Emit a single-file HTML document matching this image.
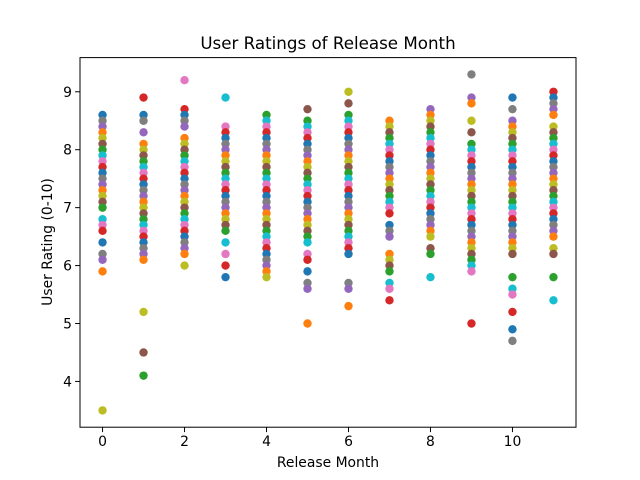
<!DOCTYPE html>
<html><head><meta charset="utf-8"><style>
body{margin:0;background:#fff;}
svg{display:block;font-family:"DejaVu Sans","Liberation Sans",sans-serif;}
</style></head><body>
<svg id="chart" width="640" height="480">
<rect width="640" height="480" fill="#fff"/>
<text x="328" y="49" text-anchor="middle" font-size="16.7" fill="#000">User Ratings of Release Month</text>
<g id="marks"></g>
<rect x="80" y="57.6" width="496" height="369.6" fill="none" stroke="#000" stroke-width="1"/>
<g id="axes"></g>
<text x="328" y="467" text-anchor="middle" font-size="13.9" fill="#000">Release Month</text>
<text transform="translate(52,242) rotate(-90)" text-anchor="middle" font-size="13.9" fill="#000">User Rating (0-10)</text>
</svg>
<script>
const months=[0,1,2,3,4,5,6,7,8,9,10,11];
const m0=[8.6,8.5,8.4,8.3,8.2,8.1,8.0,7.9,7.8,7.7,7.6,7.5,7.4,7.3,7.2,7.1,7.0,6.8,6.7,6.6,6.4,6.2,6.1,5.9,3.5];
const m1=[8.9,8.6,8.5,8.3,8.1,8.0,7.9,7.8,7.7,7.6,7.5,7.4,7.3,7.2,7.1,7.0,6.9,6.8,6.7,6.6,6.5,6.4,6.3,6.2,6.1,5.2,4.5,4.1];
const m2=[9.2,8.7,8.6,8.5,8.4,8.2,8.1,8.0,7.9,7.8,7.7,7.6,7.5,7.4,7.3,7.2,7.1,7.0,6.9,6.8,6.7,6.6,6.5,6.4,6.3,6.2,6.0];
const m3=[8.9,8.4,8.3,8.2,8.1,8.0,7.9,7.8,7.7,7.6,7.5,7.4,7.3,7.2,7.1,7.0,6.9,6.8,6.7,6.6,6.4,6.2,6.0,5.8];
const m4=[8.6,8.5,8.4,8.3,8.2,8.1,8.0,7.9,7.8,7.7,7.6,7.5,7.4,7.3,7.2,7.1,7.0,6.9,6.8,6.7,6.6,6.5,6.4,6.3,6.2,6.1,6.0,5.9,5.8];
const m5=[8.7,8.5,8.4,8.3,8.2,8.1,8.0,7.9,7.8,7.7,7.6,7.5,7.4,7.3,7.2,7.1,7.0,6.9,6.8,6.7,6.6,6.5,6.4,6.2,6.1,5.9,5.7,5.6,5.0];
const m6=[9.0,8.8,8.6,8.5,8.4,8.3,8.2,8.1,8.0,7.9,7.8,7.7,7.6,7.5,7.4,7.3,7.2,7.1,7.0,6.9,6.8,6.7,6.6,6.5,6.4,6.3,6.2,5.7,5.6,5.3];
const m7=[8.5,8.4,8.3,8.2,8.1,8.0,7.9,7.8,7.7,7.6,7.5,7.4,7.3,7.2,7.1,7.0,6.9,6.7,6.6,6.5,6.2,6.1,6.0,5.9,5.7,5.6,5.4];
const m8=[8.7,8.6,8.5,8.4,8.3,8.2,8.1,8.0,7.9,7.8,7.7,7.6,7.5,7.4,7.3,7.2,7.1,7.0,6.9,6.8,6.7,6.6,6.5,6.3,6.2,5.8];
const m9=[9.3,8.9,8.8,8.5,8.3,8.1,8.0,7.9,7.8,7.7,7.6,7.5,7.4,7.3,7.2,7.1,7.0,6.9,6.8,6.7,6.6,6.5,6.4,6.3,6.2,6.1,6.0,5.9,5.0];
const m10=[8.9,8.7,8.5,8.4,8.3,8.2,8.1,8.0,7.9,7.8,7.7,7.6,7.5,7.4,7.3,7.2,7.1,7.0,6.9,6.8,6.7,6.6,6.5,6.4,6.3,6.2,5.8,5.6,5.5,5.2,4.9,4.7];
const m11=[9.0,8.9,8.8,8.7,8.6,8.4,8.3,8.2,8.1,8.0,7.9,7.8,7.7,7.6,7.5,7.4,7.3,7.2,7.1,7.0,6.9,6.8,6.7,6.6,6.5,6.3,6.2,5.8,5.4];
const ratings=[m0,m1,m2,m3,m4,m5,m6,m7,m8,m9,m10,m11];
const xTicks=[0,2,4,6,8,10];
const yTicks=[4,5,6,7,8,9];
const palette=["#1f77b4","#ff7f0e","#2ca02c","#d62728","#9467bd","#8c564b","#e377c2","#7f7f7f","#bcbd22","#17becf"];

const L=80,R=576,T=57.6,B=427.2;
const xMin=-0.55,xMax=11.55,yMin=3.21,yMax=9.59;
const xs=v=>L+(v-xMin)/(xMax-xMin)*(R-L);
const ys=v=>B-(v-yMin)/(yMax-yMin)*(B-T);
const NS="http://www.w3.org/2000/svg";
const marks=document.getElementById("marks");
const axes=document.getElementById("axes");

months.forEach((m,mi)=>{
  const arr=ratings[mi];
  arr.forEach((r,j)=>{
    const c=document.createElementNS(NS,"circle");
    c.setAttribute("cx",xs(m));
    c.setAttribute("cy",ys(r));
    c.setAttribute("r",4.2);
    c.setAttribute("fill",palette[(j*7+mi*3)%10]);
    
    
    marks.appendChild(c);
  });
});

xTicks.forEach(t=>{
  const x=xs(t);
  const l=document.createElementNS(NS,"line");
  l.setAttribute("x1",x);l.setAttribute("x2",x);
  l.setAttribute("y1",B);l.setAttribute("y2",B+4.9);
  l.setAttribute("stroke","#000");
  
  
  axes.appendChild(l);
  const tx=document.createElementNS(NS,"text");
  tx.setAttribute("x",x);tx.setAttribute("y",B+19);
  tx.setAttribute("text-anchor","middle");tx.setAttribute("font-size","13.9");
  tx.textContent=t;
  
  
  axes.appendChild(tx);
});
yTicks.forEach(t=>{
  const y=ys(t);
  const l=document.createElementNS(NS,"line");
  l.setAttribute("x1",L-4.9);l.setAttribute("x2",L);
  l.setAttribute("y1",y);l.setAttribute("y2",y);
  l.setAttribute("stroke","#000");
  
  
  axes.appendChild(l);
  const tx=document.createElementNS(NS,"text");
  tx.setAttribute("x",L-8);tx.setAttribute("y",y+5);
  tx.setAttribute("text-anchor","end");tx.setAttribute("font-size","13.9");
  tx.textContent=t;
  
  
  axes.appendChild(tx);
});
</script>
</body></html>
